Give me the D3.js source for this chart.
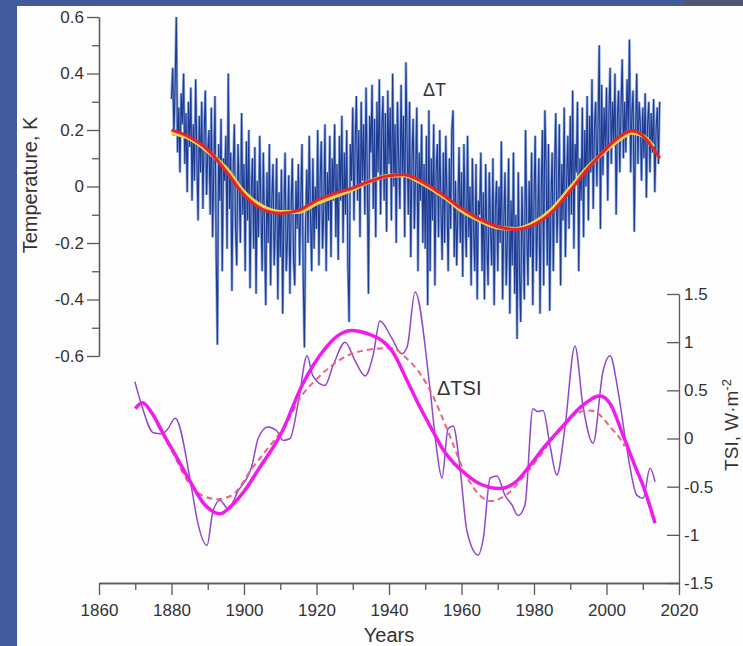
<!DOCTYPE html>
<html>
<head>
<meta charset="utf-8">
<script src="https://cdn.jsdelivr.net/npm/d3@7"></script>
<style>
  html, body { margin: 0; padding: 0; background: #42599b; }
  svg { display: block; }
  text { font-family: "Liberation Sans", Arial, sans-serif; fill: #333; }
</style>
</head>
<body>
<svg id="chart" width="743" height="646"></svg>
<script>
// ---- data ----
// Global temperature anomaly, K, sampled three times a year from 1880
const tempStartYear = 1880;
const tempSamplesPerYear = 3;
const tempAnomaly = [
  0.31, 0.42, 0.18, 0.36, 0.60, 0.12, 0.28, 0.05, 0.33, 0.22, 0.40, 0.08, 0.26, -0.02, 0.30,
  0.14, 0.35, -0.05, 0.22, 0.02, 0.38, 0.10, -0.12, 0.25, 0.05, 0.30, -0.08, 0.18, 0.34, -0.03,
  0.12, 0.20, -0.10, 0.28, -0.18, 0.06, 0.32, -0.25, -0.56, 0.15, -0.05, 0.24, -0.30, 0.10, 0.02,
  0.18, -0.22, 0.40, -0.08, 0.12, -0.37, 0.05, 0.22, -0.15, -0.28, 0.15, 0.00, -0.20, 0.26, -0.10,
  0.08, -0.30, 0.16, -0.12, 0.20, -0.36, -0.02, 0.10, -0.22, 0.14, -0.38, 0.02, -0.18, 0.18, -0.08,
  -0.30, 0.12, -0.15, -0.42, 0.05, -0.20, 0.15, -0.35, -0.05, 0.08, -0.28, -0.12, 0.10, -0.40, -0.02,
  -0.25, 0.06, -0.45, -0.10, 0.12, -0.30, -0.18, 0.04, -0.38, -0.08, 0.10, -0.26, -0.35, 0.02, -0.15,
  0.08, -0.28, -0.05, 0.15, -0.32, -0.57, -0.12, 0.06, -0.20, 0.18, -0.10, -0.30, 0.10, -0.22, 0.00,
  -0.15, 0.20, -0.28, 0.02, 0.16, -0.22, -0.08, 0.22, -0.30, 0.05, -0.12, 0.18, -0.25, 0.10, -0.05,
  0.22, -0.18, 0.08, -0.26, 0.18, -0.05, 0.25, -0.20, 0.12, -0.10, 0.20, -0.28, -0.48, 0.15, 0.02,
  0.28, -0.12, 0.15, 0.32, -0.05, 0.20, -0.18, 0.30, 0.02, 0.22, -0.10, 0.35, 0.05, -0.38, 0.25,
  0.12, 0.36, -0.08, 0.24, -0.18, 0.30, 0.05, 0.38, -0.10, 0.20, 0.32, -0.05, 0.26, -0.16, 0.34,
  0.08, 0.28, -0.12, 0.40, 0.00, 0.22, -0.20, 0.30, 0.10, -0.08, 0.36, 0.04, 0.25, -0.18, 0.44,
  0.15, -0.10, 0.30, -0.25, 0.10, 0.24, -0.15, 0.05, 0.28, -0.30, 0.12, -0.05, 0.22, -0.20, 0.08,
  -0.22, 0.18, -0.42, 0.27, -0.30, 0.10, -0.12, 0.22, -0.35, 0.05, 0.15, -0.18, 0.20, -0.08, -0.26,
  0.12, -0.20, 0.18, -0.05, -0.30, 0.10, -0.15, 0.20, 0.27, -0.25, 0.02, -0.28, -0.08, 0.14, -0.20,
  0.05, -0.32, 0.15, -0.10, -0.25, 0.18, -0.18, 0.00, -0.35, 0.10, -0.15, -0.30, 0.08, -0.40, -0.05,
  -0.10, 0.12, -0.30, -0.02, -0.40, 0.08, -0.20, -0.35, 0.05, -0.15, -0.28, 0.10, -0.42, -0.08, 0.02,
  -0.30, 0.00, -0.20, 0.16, -0.40, -0.12, 0.05, -0.35, -0.18, 0.10, -0.45, -0.05, -0.28, 0.12, -0.38,
  -0.10, -0.54, 0.05, -0.30, -0.48, 0.00, -0.20, -0.40, 0.20, -0.15, -0.35, 0.02, -0.25, 0.12, -0.42,
  -0.05, 0.18, -0.30, -0.12, 0.10, -0.45, -0.02, 0.20, -0.35, 0.27, 0.08, -0.28, 0.15, -0.44, -0.05,
  0.12, -0.30, 0.05, 0.26, -0.20, -0.05, 0.22, -0.35, 0.08, -0.12, 0.28, -0.25, 0.02, 0.18, -0.15,
  0.25, -0.10, 0.34, -0.22, 0.15, 0.05, 0.30, -0.30, 0.10, -0.05, 0.28, -0.18, 0.20, 0.00, 0.32,
  -0.12, 0.25, 0.05, 0.38, -0.08, 0.20, 0.30, 0.00, 0.22, 0.50, -0.15, 0.36, 0.04, 0.28, 0.12,
  0.35, -0.05, 0.26, 0.42, 0.08, 0.30, 0.15, 0.40, -0.10, 0.24, 0.34, 0.05, 0.28, 0.45, 0.10,
  0.30, 0.12, 0.38, 0.20, 0.52, 0.05, 0.26, 0.34, -0.16, 0.18, 0.40, 0.08, 0.30, 0.22, 0.02,
  0.28, 0.10, 0.33, -0.04, 0.22, 0.30, 0.05, 0.26, 0.12, 0.31, -0.02, 0.20, 0.28, 0.08, 0.30
];

// Smoothed temperature trend (red) and fitted curve (yellow): [year, K]
const tempTrend = [
  [1880, 0.20], [1885, 0.175], [1890, 0.13], [1895, 0.055], [1900, -0.03], [1905, -0.08],
  [1910, -0.095], [1915, -0.085], [1920, -0.05], [1925, -0.025], [1930, -0.005], [1935, 0.02],
  [1940, 0.038], [1944, 0.042], [1948, 0.025], [1952, -0.005], [1956, -0.04], [1960, -0.078],
  [1965, -0.115], [1970, -0.142], [1975, -0.152], [1980, -0.135], [1985, -0.09], [1990, -0.015],
  [1995, 0.065], [2000, 0.135], [2004, 0.18], [2007, 0.197], [2010, 0.18], [2012, 0.15], [2014.7, 0.10]
];
const tempFit = [
  [1880, 0.19], [1885, 0.17], [1890, 0.125], [1895, 0.065], [1900, -0.02], [1905, -0.07],
  [1910, -0.09], [1915, -0.09], [1920, -0.06], [1925, -0.035], [1930, -0.01], [1935, 0.02],
  [1940, 0.038], [1944, 0.04], [1948, 0.02], [1952, -0.01], [1956, -0.045], [1960, -0.085],
  [1965, -0.12], [1970, -0.145], [1975, -0.15], [1980, -0.128], [1985, -0.08], [1990, -0.005],
  [1995, 0.07], [2000, 0.13], [2004, 0.17], [2007, 0.19], [2010, 0.18], [2013, 0.14]
];

// Total solar irradiance anomaly, W·m-2: [year, value]
const tsiRaw = [
  [1869.9, 0.59], [1871.8, 0.34], [1875, 0.06], [1877.4, 0.05], [1879, 0.10], [1881, 0.21],
  [1885.7, -0.55], [1887, -0.83], [1889.8, -1.11], [1891.4, -0.76], [1893.4, -0.64], [1895.6, -0.73],
  [1898.3, -0.55], [1902.2, -0.28], [1903.9, 0.00], [1906.6, 0.12], [1909, 0.08], [1910.8, -0.02],
  [1912.7, 0.00], [1915, 0.38], [1917.4, 0.86], [1919, 0.65], [1922.3, 0.55], [1924.6, 0.76],
  [1927.9, 1.00], [1930.6, 0.81], [1933.4, 0.65], [1935.6, 0.86], [1937.5, 1.22], [1940.8, 1.04],
  [1943.5, 0.88], [1945, 0.95], [1947.2, 1.52], [1951.3, 0.52], [1953.2, -0.13], [1954.6, -0.41],
  [1956.3, 0.10], [1957.7, 0.13], [1959.6, -0.31], [1961.5, -0.96], [1964.6, -1.21], [1966, -1.04],
  [1967.9, -0.41], [1969.8, -0.39], [1972, -0.59], [1973.9, -0.69], [1975.6, -0.80], [1977.5, -0.69],
  [1979.7, 0.31], [1981, 0.28], [1982.5, 0.29], [1984.4, -0.07], [1986.3, -0.38], [1988.5, 0.10],
  [1991.3, 0.96], [1993.5, 0.34], [1996.3, -0.05], [1999, 0.69], [2001, 0.86], [2003.2, 0.49],
  [2005.6, -0.10], [2008.4, -0.59], [2010.1, -0.62], [2012, -0.31], [2013.4, -0.45]
];
const tsiSmooth = [
  [1870, 0.31], [1872, 0.37], [1874.5, 0.27], [1878, 0.03], [1881.5, -0.20], [1884.6, -0.41],
  [1889, -0.68], [1893.4, -0.78], [1897, -0.68], [1900, -0.55], [1904, -0.32], [1910.5, 0.07],
  [1916, 0.55], [1922.3, 0.93], [1926, 1.07], [1929.8, 1.12], [1934, 1.09], [1938.9, 0.99],
  [1941, 0.90], [1945, 0.60], [1948.5, 0.33], [1952.2, 0.07], [1955, -0.12], [1958, -0.26],
  [1961.5, -0.38], [1965, -0.47], [1970.6, -0.52], [1975, -0.45], [1978.9, -0.28], [1983, -0.08],
  [1988, 0.13], [1993, 0.33], [1998.2, 0.44], [2001, 0.36], [2004.6, 0.03], [2008, -0.30],
  [2010.1, -0.49], [2013.4, -0.88]
];
const tsiModel = [
  [1876, 0.15], [1880, -0.12], [1884.6, -0.45], [1888.4, -0.59], [1892.8, -0.63], [1897, -0.58],
  [1902.2, -0.31], [1906.6, -0.10], [1911.3, 0.13], [1916, 0.45], [1919.6, 0.60], [1927, 0.83],
  [1936, 0.93], [1941, 0.94], [1944, 0.86], [1949, 0.65], [1952, 0.45], [1956, 0.10],
  [1961.5, -0.40], [1966, -0.62], [1968, -0.65], [1972.5, -0.58], [1977, -0.40], [1981.7, -0.18],
  [1985, 0.00], [1989, 0.18], [1994.6, 0.29], [1997, 0.28], [1999, 0.21], [2001.5, 0.10],
  [2003.7, 0.00], [2005, -0.08]
];

// Axis ticks
const yearTicks = [1860, 1880, 1900, 1920, 1940, 1960, 1980, 2000, 2020];
const yearMinorTicks = [1870, 1890, 1910, 1930, 1950, 1970, 1990, 2010];
const tempTicks = [-0.6, -0.4, -0.2, 0, 0.2, 0.4, 0.6];
const tempMinorTicks = [-0.5, -0.3, -0.1, 0.1, 0.3, 0.5];
const tsiTicks = [-1.5, -1, -0.5, 0, 0.5, 1, 1.5];

// ---- drawing ----
const svg = d3.select("#chart");

// white plotting panel on the blue slide background
svg.append("rect").attr("x", 683).attr("y", 0).attr("width", 60).attr("height", 6).attr("fill", "#4d5672");
svg.append("rect").attr("x", 17).attr("y", 6).attr("width", 726).attr("height", 640).attr("fill", "#fdfdfe");

const x = d3.scaleLinear().domain([1860, 2020]).range([99, 679]);
const yT = d3.scaleLinear().domain([-0.6, 0.6]).range([356, 17]);
const yS = d3.scaleLinear().domain([-1.5, 1.5]).range([583, 294]);

const fmt = d => String(d);
const axisColor = "#5a5a5a";

function styleAxis(g) {
  g.selectAll("path.domain").attr("stroke", axisColor).attr("stroke-width", 1.3);
  g.selectAll(".tick line").attr("stroke", axisColor).attr("stroke-width", 1.3);
  g.selectAll(".tick text").attr("fill", "#3a3a3a").style("font-size", "17px")
    .style("font-family", '"Liberation Sans", Arial, sans-serif');
}

// left temperature axis
svg.append("g").attr("transform", "translate(99,0)")
  .call(d3.axisLeft(yT).tickValues(tempMinorTicks).tickSize(7).tickSizeOuter(0).tickFormat(""))
  .call(styleAxis);
svg.append("g").attr("transform", "translate(99,0)")
  .call(d3.axisLeft(yT).tickValues(tempTicks).tickSize(12).tickSizeOuter(0).tickPadding(3).tickFormat(fmt))
  .call(styleAxis);

// bottom years axis
svg.append("g").attr("transform", "translate(0,583)")
  .call(d3.axisBottom(x).tickValues(yearMinorTicks).tickSize(7).tickSizeOuter(0).tickFormat(""))
  .call(styleAxis);
svg.append("g").attr("transform", "translate(0,583)")
  .call(d3.axisBottom(x).tickValues(yearTicks).tickSize(12).tickSizeOuter(0).tickPadding(9).tickFormat(fmt))
  .call(styleAxis);

// right TSI axis, ticks pointing into the plot
svg.append("g").attr("transform", "translate(679,0)")
  .call(d3.axisRight(yS).tickValues(tsiTicks).tickSize(-12).tickSizeOuter(0).tickPadding(5).tickFormat(fmt))
  .call(styleAxis);

// axis titles
svg.append("text").attr("transform", "translate(37,185) rotate(-90)")
  .attr("text-anchor", "middle").style("font-size", "20px").text("Temperature, K");
svg.append("text").attr("x", 389).attr("y", 642)
  .attr("text-anchor", "middle").style("font-size", "20px").text("Years");
const tsiTitle = svg.append("text").attr("transform", "translate(738,425) rotate(-90)")
  .attr("text-anchor", "middle").style("font-size", "19px");
tsiTitle.append("tspan").text("TSI, W·m");
tsiTitle.append("tspan").attr("dy", -7).style("font-size", "13px").text("-2");

// temperature series
const tempPoints = tempAnomaly.map((v, i) => [tempStartYear + i / tempSamplesPerYear, v]);
const lineT = d3.line().x(d => x(d[0])).y(d => yT(d[1]));
const smoothT = d3.line().x(d => x(d[0])).y(d => yT(d[1])).curve(d3.curveMonotoneX);

svg.append("path").datum(tempPoints).attr("d", lineT)
  .attr("fill", "none").attr("stroke", "#6a8bd0").attr("stroke-width", 2.6).attr("stroke-opacity", 0.75);
svg.append("path").datum(tempPoints).attr("d", lineT)
  .attr("fill", "none").attr("stroke", "#1d3b92").attr("stroke-width", 1.1);
svg.append("path").datum(tempFit).attr("d", smoothT)
  .attr("fill", "none").attr("stroke", "#f2d54a").attr("stroke-width", 4);
svg.append("path").datum(tempTrend).attr("d", smoothT)
  .attr("fill", "none").attr("stroke", "#e2262e").attr("stroke-width", 3.2);

// TSI series
const lineS = d3.line().x(d => x(d[0])).y(d => yS(d[1])).curve(d3.curveMonotoneX);
svg.append("path").datum(tsiRaw).attr("d", lineS)
  .attr("fill", "none").attr("stroke", "#9147cc").attr("stroke-width", 1.5);
svg.append("path").datum(tsiModel).attr("d", lineS)
  .attr("fill", "none").attr("stroke", "#ea6486").attr("stroke-width", 2)
  .attr("stroke-dasharray", "6,4");
svg.append("path").datum(tsiSmooth).attr("d", lineS)
  .attr("fill", "none").attr("stroke", "#f01cec").attr("stroke-width", 3.5);

// series labels
svg.append("text").attr("x", 423).attr("y", 96).style("font-size", "18px").text("ΔT");
svg.append("text").attr("x", 437).attr("y", 395).style("font-size", "20px").text("ΔTSI");
</script>
</body>
</html>
